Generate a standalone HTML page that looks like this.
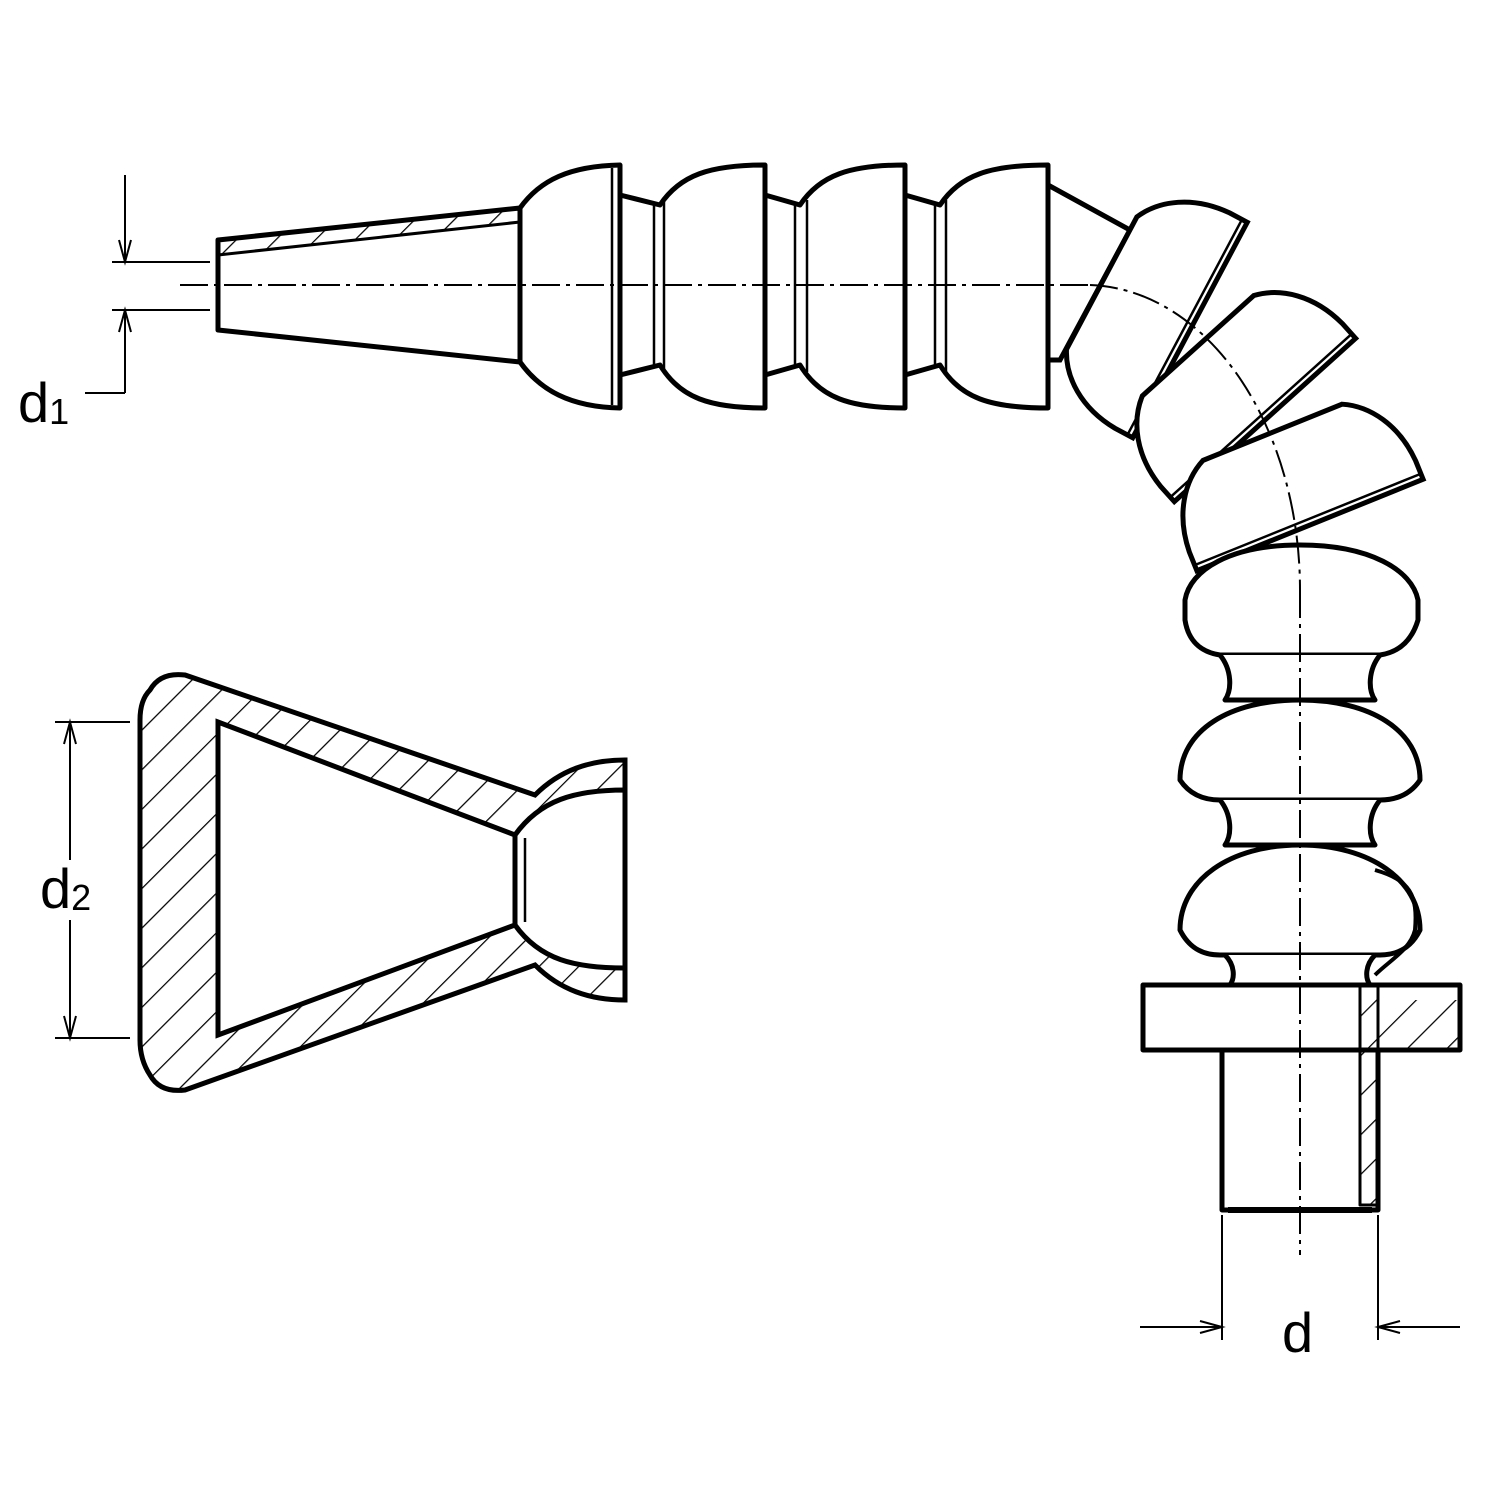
<!DOCTYPE html>
<html><head><meta charset="utf-8"><style>
html,body{margin:0;padding:0;background:#fff}
svg{display:block}
text{font-family:"Liberation Sans",sans-serif;fill:#000}
</style></head><body>
<svg width="1500" height="1500" viewBox="0 0 1500 1500" xmlns="http://www.w3.org/2000/svg">
<defs>
<pattern id="h" width="28" height="28" patternUnits="userSpaceOnUse" patternTransform="rotate(45)">
<line x1="0" y1="0" x2="0" y2="28" stroke="#000" stroke-width="2.5"/>
</pattern>
<g id="seg">
<path d="M0,-122 L-20,-122 C-60,-120 -88,-100 -100,-75 L-100,75 C-88,100 -60,120 -20,122 L0,122 Z" fill="#fff" stroke="#000" stroke-width="5"/>
<line x1="-6" y1="-122" x2="-6" y2="122" stroke="#000" stroke-width="2.5"/>
</g>
</defs>
<g fill="none" stroke="#000" stroke-width="5" stroke-linejoin="round">
<path d="M218,240 L520,208 L520,362 L218,330 Z" fill="#fff"/>
<path d="M218,240 L520,208 L520,222 L218,255 Z" fill="url(#h)" stroke-width="3"/>
<path d="M520,208 C540,180 570,166 620,165 L620,408 C570,407 540,390 520,362"/>
<line x1="612" y1="168" x2="612" y2="405" stroke-width="2.5"/>
<path d="M620,195 L660,205 C680,175 710,165 765,165 L765,408 C710,408 680,398 660,365 L620,375"/>
<line x1="654" y1="205" x2="654" y2="368" stroke-width="2.5"/><line x1="664" y1="200" x2="664" y2="372" stroke-width="2.5"/>
<path d="M765,195 L800,205 C820,175 850,165 905,165 L905,408 C850,408 820,398 800,365 L765,375"/>
<line x1="795" y1="205" x2="795" y2="368" stroke-width="2.5"/><line x1="807" y1="200" x2="807" y2="372" stroke-width="2.5"/>
<path d="M905,195 L940,205 C960,175 990,165 1048,165 L1048,408 C990,408 960,398 940,365 L905,375"/>
<line x1="935" y1="205" x2="935" y2="368" stroke-width="2.5"/><line x1="946" y1="200" x2="946" y2="372" stroke-width="2.5"/>
</g>
<path d="M1048,185 L1130,230 L1060,360 L1048,360 Z" fill="#fff" stroke="#000" stroke-width="5"/>
<use href="#seg" transform="translate(1190,330) rotate(28)"/>
<use href="#seg" transform="translate(1265,420) rotate(48)"/>
<use href="#seg" transform="translate(1310,525) rotate(68)"/>
<g fill="#fff" stroke="#000" stroke-width="5" stroke-linejoin="round">
<path d="M1185,600 C1190,570 1230,545 1300,545 C1370,545 1412,570 1418,600 L1418,620 C1412,640 1400,652 1380,655 L1220,655 C1200,652 1188,640 1185,620 Z"/>
<path d="M1220,655 C1232,670 1232,690 1225,700 L1375,700 C1368,690 1368,670 1380,655"/>
<path d="M1180,780 C1180,730 1230,700 1300,700 C1370,700 1420,730 1420,780 C1410,795 1395,800 1380,800 L1220,800 C1205,800 1190,795 1180,780 Z"/>
<path d="M1220,800 C1232,815 1232,835 1225,845 L1375,845 C1368,835 1368,815 1380,800"/>
<path d="M1180,930 C1180,880 1230,845 1300,845 C1370,845 1420,880 1420,930 C1410,950 1395,955 1380,955 L1220,955 C1205,955 1190,950 1180,930 Z"/>
<path d="M1225,955 C1235,965 1235,978 1230,985 L1370,985 C1365,978 1365,965 1375,955"/>
<path d="M1375,870 C1410,880 1418,895 1415,930 C1410,950 1390,960 1375,975" fill="none" stroke-width="4"/>
<rect x="1143" y="985" width="317" height="65"/>
<rect x="1222" y="1050" width="156" height="160"/>
<path d="M1360,985 L1378,985 L1378,1205 L1360,1205 Z" fill="url(#h)" stroke-width="3"/>
<path d="M1378,1000 L1458,1000 L1458,1048 L1378,1048 Z" fill="url(#h)" stroke="none"/>
<line x1="1228" y1="1210" x2="1372" y2="1210" stroke-width="6"/>
<line x1="1222" y1="1060" x2="1222" y2="1200" stroke-width="2.5"/>
</g>
<path d="M150,690 Q160,672 185,675 L535,795 C560,770 590,760 625,760 L625,1000 C590,1000 560,990 535,965 L185,1090 Q160,1093 150,1075 Q140,1060 140,1040 L140,720 Q140,700 150,690 Z" fill="url(#h)" stroke="#000" stroke-width="5"/>
<path d="M218,722 L515,835 L515,925 L218,1035 Z" fill="#fff" stroke="#000" stroke-width="5"/>
<path d="M515,835 C540,800 575,790 625,790 L625,968 C575,968 540,960 515,925 Z" fill="#fff" stroke="#000" stroke-width="5"/>
<line x1="525" y1="838" x2="525" y2="922" stroke="#000" stroke-width="2.5"/>
<g stroke="#000" stroke-width="2" stroke-dasharray="28,6,4,6" fill="none">
<line x1="180" y1="285" x2="1090" y2="285"/>
<path d="M1090,285 A215 305 0 0 1 1300 590"/>
<line x1="1300" y1="590" x2="1300" y2="1255"/>
</g>
<g stroke="#000" stroke-width="2" fill="none">
<line x1="125" y1="175" x2="125" y2="262"/><path d="M119,240 L125,262 L131,240"/>
<line x1="112" y1="262" x2="210" y2="262"/><line x1="112" y1="310" x2="210" y2="310"/>
<line x1="125" y1="310" x2="125" y2="393"/><path d="M119,332 L125,310 L131,332"/>
<line x1="85" y1="393" x2="125" y2="393"/>
<line x1="55" y1="722" x2="130" y2="722"/><line x1="55" y1="1038" x2="130" y2="1038"/>
<line x1="70" y1="722" x2="70" y2="860"/><line x1="70" y1="920" x2="70" y2="1038"/>
<path d="M64,744 L70,722 L76,744"/><path d="M64,1016 L70,1038 L76,1016"/>
<line x1="1222" y1="1215" x2="1222" y2="1340"/><line x1="1378" y1="1215" x2="1378" y2="1340"/>
<line x1="1140" y1="1327" x2="1222" y2="1327"/><path d="M1200,1321 L1222,1327 L1200,1333"/>
<line x1="1378" y1="1327" x2="1460" y2="1327"/><path d="M1400,1321 L1378,1327 L1400,1333"/>
</g>
<text x="18" y="422" font-size="56">d<tspan font-size="36" dy="2">1</tspan></text>
<text x="40" y="908" font-size="56">d<tspan font-size="36" dy="2">2</tspan></text>
<text x="1282" y="1352" font-size="56">d</text>
</svg>
</body></html>
